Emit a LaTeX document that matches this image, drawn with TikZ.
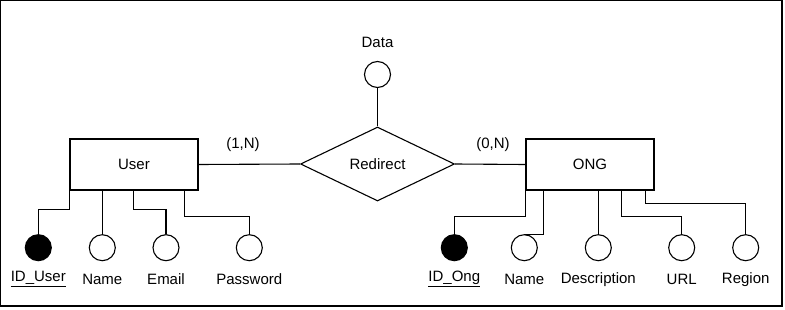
\documentclass[tikz,border=0pt]{standalone}
\usepackage{fontspec}
\setmainfont{Liberation Sans}
\usetikzlibrary{shapes.geometric}
\begin{document}
\begin{tikzpicture}[x=1pt,y=-1pt,
  line width=1.1pt,
  font=\fontsize{15}{18}\selectfont,
  entity/.style={draw,rectangle,minimum width=128pt,minimum height=51pt,inner sep=0pt},
  relation/.style={draw,diamond,minimum width=154pt,minimum height=74pt,inner sep=0pt},
  attr/.style={draw,circle,minimum size=26pt,inner sep=0pt,fill=white},
  keyattr/.style={attr,fill=black},
  lbl/.style={inner sep=0pt,anchor=center}]
  \useasboundingbox (0,0) rectangle (785,310);
  % outer frame
  \draw[line width=1.3pt] (0.65,0.65) rectangle (782,306);

  % entities and relationship
  \node[entity] (user) at (134,164.5) {User};
  \node[entity] (ong) at (590,164.5) {ONG};
  \node[relation] (redirect) at (377.5,164) {Redirect};

  % relationship attribute
  \node[attr] (data) at (377.5,74.5) {};
  \node[lbl] (datatxt) at (377.5,42) {Data};
  \draw (data) -- (redirect.north);

  % relationship lines and cardinalities
  \draw (user.east) -- (redirect.west);
  \draw (redirect.east) -- (ong.west);
  \node[lbl] (cardu) at (243,145) {(1,N)};
  \node[lbl] (cardo) at (493,145) {(0,N)};

  % User attributes
  \node[keyattr] (iduser) at (38.3,247.7) {};
  \node[attr] (uname) at (102.3,247.7) {};
  \node[attr] (email) at (166,247.7) {};
  \node[attr] (pass) at (249.3,247.7) {};
  \node[lbl] (idusertxt) at (38.3,279.3) {\underline{ID\_User}};
  \node[lbl] (unametxt) at (102.3,279.3) {Name};
  \node[lbl] (emailtxt) at (166,279.3) {Email};
  \node[lbl] (passtxt) at (249.3,279.3) {Password};

  \draw (user.south west) -- ++(0,19.3) -| (iduser.north);
  \draw (uname.north) -- (uname.north |- user.south);
  \draw ([xshift=64.3pt]user.south west) -- ++(0,19.3) -| (email.north);
  \draw ([xshift=115.3pt]user.south west) -- ++(0,26) -| (pass.north);

  % ONG attributes
  \node[keyattr] (idong) at (454.3,247.7) {};
  \node[attr] (oname) at (524.3,247.7) {};
  \node[attr] (desc) at (598.3,247.7) {};
  \node[attr] (url) at (681.7,247.7) {};
  \node[attr] (region) at (745.7,247.7) {};
  \node[lbl] (idongtxt) at (454.3,279.3) {\underline{ID\_Ong}};
  \node[lbl] (onametxt) at (524.3,279.3) {Name};
  \node[lbl] (desctxt) at (598.3,279.3) {Description};
  \node[lbl] (urltxt) at (681.7,279.3) {URL};
  \node[lbl] (regiontxt) at (745.7,279.3) {Region};

  \draw (ong.south west) -- ++(0,26) -| (idong.north);
  \draw ([xshift=18.3pt]ong.south west) |- (oname.north);
  \draw (desc.north) -- (desc.north |- ong.south);
  \draw ([xshift=96pt]ong.south west) -- ++(0,26) -| (url.north);
  \draw ([xshift=119.7pt]ong.south west) -- ++(0,12.7) -| (region.north);
\end{tikzpicture}
\end{document}
